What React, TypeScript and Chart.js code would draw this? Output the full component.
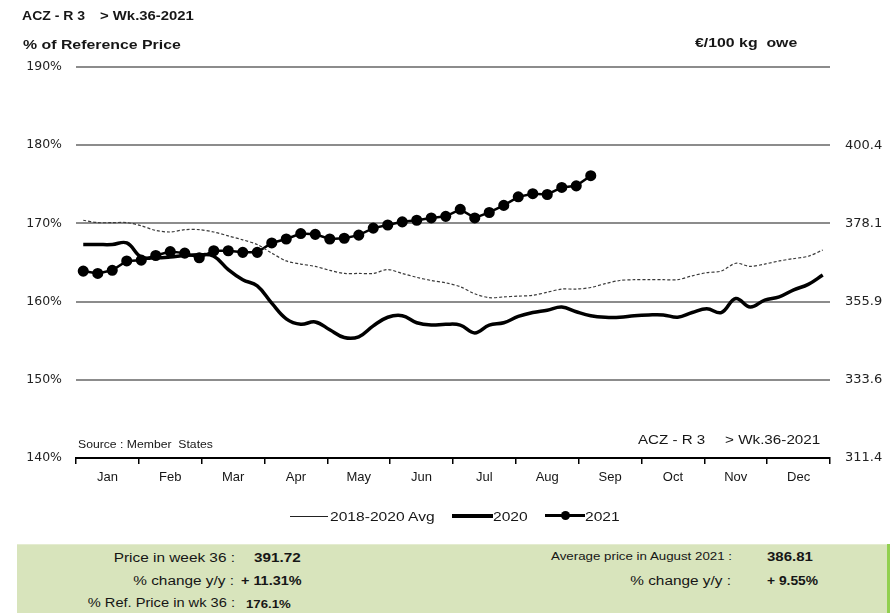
import React, { useEffect, useRef } from "react";
import { Chart, registerables } from "chart.js";

Chart.register(...registerables);

const months = ["Jan", "Feb", "Mar", "Apr", "May", "Jun", "Jul", "Aug", "Sep", "Oct", "Nov", "Dec"];
const rightTickLabels = ["311.4", "333.6", "355.9", "378.1", "400.4", ""];

// % of reference price, weekly (weeks 1..52)
const avg2018_2020 = [
  170.4, 170.1, 170.1, 170.1, 169.7, 169.1, 168.9, 169.2, 169.2, 168.9,
  168.4, 167.9, 167.3, 166.2, 165.2, 164.8, 164.5, 164.0, 163.6, 163.6,
  163.6, 164.1, 163.6, 163.1, 162.7, 162.4, 161.9, 161.0, 160.5, 160.6,
  160.7, 160.8, 161.2, 161.6, 161.6, 161.8, 162.3, 162.7, 162.8, 162.8,
  162.8, 162.8, 163.3, 163.7, 163.9, 164.9, 164.5, 164.8, 165.2, 165.5,
  165.8, 166.6,
];
const series2020 = [
  167.3, 167.3, 167.3, 167.5, 165.7, 165.6, 165.7, 165.9, 166.0, 165.8,
  164.1, 162.8, 162.0, 159.8, 157.8, 157.1, 157.4, 156.4, 155.4, 155.5,
  156.9, 158.0, 158.2, 157.3, 157.0, 157.1, 157.0, 156.0, 157.0, 157.3,
  158.1, 158.6, 158.9, 159.3, 158.7, 158.2, 158.0, 158.0, 158.2, 158.3,
  158.3, 158.0, 158.6, 159.1, 158.6, 160.4, 159.3, 160.2, 160.6, 161.5,
  162.2, 163.4,
];
const series2021 = [
  163.9, 163.6, 164.0, 165.2, 165.3, 165.9, 166.4, 166.2, 165.6, 166.5,
  166.5, 166.3, 166.3, 167.5, 168.0, 168.7, 168.6, 168.0, 168.1, 168.5,
  169.4, 169.8, 170.2, 170.4, 170.7, 170.9, 171.8, 170.7, 171.4, 172.3,
  173.4, 173.8, 173.7, 174.6, 174.8, 176.1,
];

const toPoints = (arr: number[]) => arr.map((v, i) => ({ x: i + 0.5, y: v }));

const FONT = "'Liberation Sans', Arial, sans-serif";
const WIDE = "'DejaVu Sans', 'Liberation Sans', sans-serif";

type TProps = {
  x: number;
  y: number;
  text: string;
  size?: number;
  bold?: boolean;
  align?: "left" | "right";
  sx?: number;
};

function T({ x, y, text, size = 12, bold = false, align = "left", sx = 1.28 }: TProps) {
  const h = Math.round(size * 1.25);
  const base: React.CSSProperties = {
    position: "absolute",
    top: y - h / 2,
    height: h,
    lineHeight: h + "px",
    fontSize: size,
    fontWeight: bold ? "bold" : "normal",
    fontFamily: FONT,
    color: "#161616",
    whiteSpace: "pre",
    transform: `scaleX(${sx})`,
  };
  if (align === "right") {
    return (
      <div style={{ ...base, left: x - 400, width: 400, textAlign: "right", transformOrigin: "right center" }}>{text}</div>
    );
  }
  return <div style={{ ...base, left: x, transformOrigin: "left center" }}>{text}</div>;
}

export default function App() {
  const ref = useRef<HTMLCanvasElement | null>(null);

  useEffect(() => {
    if (!ref.current) return;
    Chart.defaults.font.family = FONT;
    const chart = new Chart(ref.current, {
      type: "line",
      data: {
        datasets: [
          {
            label: "2018-2020 Avg",
            data: toPoints(avg2018_2020),
            borderColor: "#3a3a3a",
            borderWidth: 1.2,
            borderDash: [3, 2],
            pointRadius: 0,
            tension: 0.3,
            xAxisID: "x",
            yAxisID: "y",
          },
          {
            label: "2020",
            data: toPoints(series2020),
            borderColor: "#000",
            borderWidth: 3.5,
            pointRadius: 0,
            tension: 0.4,
            xAxisID: "x",
            yAxisID: "y",
          },
          {
            label: "2021",
            data: toPoints(series2021),
            borderColor: "#000",
            backgroundColor: "#000",
            borderWidth: 2.5,
            pointRadius: 4.3,
            pointBackgroundColor: "#000",
            pointBorderColor: "#000",
            tension: 0,
            xAxisID: "x",
            yAxisID: "y",
          },
        ],
      },
      options: {
        responsive: false,
        animation: false,
        layout: { padding: { top: 67, left: 0, right: 0, bottom: 0 } },
        plugins: { legend: { display: false }, tooltip: { enabled: false } },
        scales: {
          x: { type: "linear", min: 0, max: 52, display: false },
          xm: {
            type: "category",
            labels: months,
            position: "bottom",
            offset: true,
            grid: { offset: true, drawOnChartArea: false, tickLength: 6, color: "#000", lineWidth: 1.5 },
            border: { display: true, color: "#000", width: 2 },
            ticks: { padding: 6, color: "#161616", font: { size: 13, family: FONT } },
            afterFit: (s: any) => { s.height = 82; },
          },
          y: {
            position: "left",
            min: 140,
            max: 190,
            ticks: { stepSize: 10, callback: (v: any) => v + "%", padding: 14, color: "#222", font: { size: 12.5, family: WIDE } },
            grid: { color: (c: any) => (c.index === 0 ? "rgba(0,0,0,0)" : "#8c8c8c"), lineWidth: 2, drawTicks: false },
            border: { display: false },
            afterFit: (s: any) => { s.width = 76; },
          },
          y2: {
            position: "right",
            min: 140,
            max: 190,
            ticks: { stepSize: 10, callback: (_v: any, i: number) => rightTickLabels[i], padding: 15, color: "#222", font: { size: 13, family: WIDE } },
            grid: { display: false, drawTicks: false },
            border: { display: false },
            afterFit: (s: any) => { s.width = 64; },
          },
        },
      } as any,
    });
    return () => chart.destroy();
  }, []);

  return (
    <div style={{ position: "absolute", left: 0, top: 0, width: 894, height: 613, background: "#fff", overflow: "hidden" }}>
      <canvas ref={ref} width={894} height={540} style={{ position: "absolute", left: 0, top: 0, width: 894, height: 540 }} />

      <T x={22} y={16} text="ACZ - R 3" size={12} bold sx={1.17} />
      <T x={100} y={16} text="> Wk.36-2021" size={12} bold sx={1.24} />
      <T x={23} y={45} text="% of Reference Price" size={13} bold sx={1.22} />
      <T x={695} y={43} text={"€/100 kg  owe"} size={13} bold sx={1.22} />
      <T x={78} y={444} text={"Source : Member  States"} size={10} sx={1.22} />
      <T x={638} y={440} text="ACZ - R 3" size={12} sx={1.26} />
      <T x={725} y={440} text="> Wk.36-2021" size={12} sx={1.27} />

      {/* legend */}
      <div style={{ position: "absolute", left: 290, top: 516, width: 38, height: 1, background: "#222" }} />
      <T x={330} y={517} text="2018-2020 Avg" size={12} sx={1.3} />
      <div style={{ position: "absolute", left: 452, top: 514, width: 41, height: 4, background: "#000" }} />
      <T x={493} y={517} text="2020" size={12} sx={1.3} />
      <div style={{ position: "absolute", left: 545, top: 514, width: 40, height: 3, background: "#000" }} />
      <div style={{ position: "absolute", left: 561, top: 511, width: 9, height: 9, borderRadius: "50%", background: "#000" }} />
      <T x={585} y={517} text="2021" size={12} sx={1.3} />

      {/* info panel */}
      <div style={{ position: "absolute", left: 17, top: 544, width: 870, height: 69, background: "#d8e4bc", borderTop: "1px solid #e4ecd0" }} />
      <div style={{ position: "absolute", left: 887, top: 544, width: 3, height: 69, background: "#92d050" }} />

      <T x={235} y={558} text="Price in week 36 :" size={12} align="right" sx={1.28} />
      <T x={254} y={558} text="391.72" size={12} bold sx={1.27} />
      <T x={234} y={581} text="% change y/y :" size={12} align="right" sx={1.28} />
      <T x={241} y={581} text="+ 11.31%" size={12} bold sx={1.2} />
      <T x={235} y={603} text="% Ref. Price in wk 36 :" size={12} align="right" sx={1.22} />
      <T x={246} y={604} text="176.1%" size={11} bold sx={1.2} />

      <T x={732} y={556} text="Average price in August 2021 :" size={10} align="right" sx={1.33} />
      <T x={767} y={557} text="386.81" size={12} bold sx={1.25} />
      <T x={731} y={581} text="% change y/y :" size={12} align="right" sx={1.28} />
      <T x={767} y={581} text="+ 9.55%" size={12} bold sx={1.15} />
    </div>
  );
}
